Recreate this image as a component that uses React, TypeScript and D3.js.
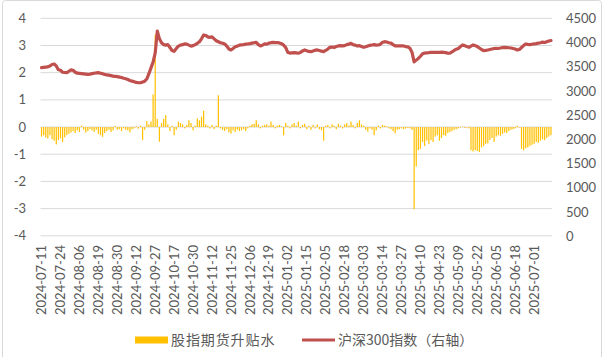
import React from 'react';
import * as d3 from 'd3';

// Trading days (categories), grouped by month
const TRADING_DAYS: [string, number[]][] = [
  ['2024-07', [11, 12, 15, 16, 17, 18, 19, 22, 23, 24, 25, 26, 29, 30, 31]],
  ['2024-08', [1, 2, 5, 6, 7, 8, 9, 12, 13, 14, 15, 16, 19, 20, 21, 22, 23, 26, 27, 28, 29, 30]],
  ['2024-09', [2, 3, 4, 5, 6, 9, 10, 11, 12, 13, 18, 19, 20, 23, 24, 25, 26, 27, 30]],
  ['2024-10', [8, 9, 10, 11, 14, 15, 16, 17, 18, 21, 22, 23, 24, 25, 28, 29, 30, 31]],
  ['2024-11', [1, 4, 5, 6, 7, 8, 11, 12, 13, 14, 15, 18, 19, 20, 21, 22, 25, 26, 27, 28, 29]],
  ['2024-12', [2, 3, 4, 5, 6, 9, 10, 11, 12, 13, 16, 17, 18, 19, 20, 23, 24, 25, 26, 27, 30, 31]],
  ['2025-01', [2, 3, 6, 7, 8, 9, 10, 13, 14, 15, 16, 17, 20, 21, 22, 23, 24, 27]],
  ['2025-02', [5, 6, 7, 10, 11, 12, 13, 14, 17, 18, 19, 20, 21, 24, 25, 26, 27, 28]],
  ['2025-03', [3, 4, 5, 6, 7, 10, 11, 12, 13, 14, 17, 18, 19, 20, 21, 24, 25, 26, 27, 28, 31]],
  ['2025-04', [1, 2, 3, 7, 8, 9, 10, 11, 14, 15, 16, 17, 18, 21, 22, 23, 24, 25, 28, 29, 30]],
  ['2025-05', [6, 7, 8, 9, 12, 13, 14, 15, 16, 19, 20, 21, 22, 23, 26, 27, 28, 29, 30]],
  ['2025-06', [3, 4, 5, 6, 9, 10, 11, 12, 13, 16, 17, 18, 19, 20, 23, 24, 25, 26, 27, 30]],
  ['2025-07', [1, 2, 3, 4, 7, 8, 9, 10, 11]],
];
const DATES: string[] = TRADING_DAYS.flatMap(([m, ds]) =>
  ds.map((d) => `${m}-${String(d).padStart(2, '0')}`)
);

// 股指期货升贴水 (left axis)
const BASIS: number[] = [
  -0.35, -0.30, -0.38, -0.42, -0.30, -0.45, -0.50, -0.64, -0.48, -0.42, -0.55, -0.38, -0.30, -0.25, -0.20,
  -0.15, -0.22, -0.12, -0.18, 0.05, -0.10, -0.20, -0.15, -0.08, -0.12, -0.18, -0.10, -0.25, -0.30, -0.36, -0.22, -0.15, -0.10, -0.18, -0.12, 0.04, -0.10,
  -0.08, -0.15, -0.05, -0.10, -0.12, -0.20, -0.08, -0.05, 0.03, -0.06, 0.05, -0.48, -0.10, 0.22, 0.10, 0.20, 1.20, 3.40, 0.30,
  -0.54, 0.15, 0.30, 0.44, 0.10, -0.15, 0.05, -0.30, -0.10, 0.20, 0.15, 0.10, -0.05, 0.08, 0.25, 0.15, -0.12, 0.05,
  0.32, 0.25, 0.38, 0.60, 0.10, 0.05, -0.05, 0.08, -0.08, 0.05, 1.17, -0.05, -0.10, -0.15, -0.08, -0.20, -0.24, -0.12, -0.18, -0.10, -0.15,
  -0.12, -0.08, -0.15, -0.05, 0.05, 0.10, 0.12, 0.25, 0.10, -0.05, 0.05, 0.08, 0.10, 0.05, 0.20, 0.08, -0.05, 0.05, 0.08, 0.03, -0.30, 0.15,
  0.05, -0.05, 0.10, 0.15, 0.05, 0.20, -0.05, 0.08, 0.12, -0.08, 0.05, -0.10, 0.08, -0.05, 0.10, -0.08, -0.12, -0.50,
  0.05, 0.08, -0.05, 0.10, 0.05, -0.08, 0.12, 0.05, -0.05, 0.10, 0.15, 0.05, 0.20, 0.08, -0.05, 0.15, 0.25, 0.10,
  0.05, -0.10, -0.17, -0.05, -0.10, -0.30, -0.12, 0.05, -0.05, 0.08, 0.05, 0.03, -0.05, -0.08, -0.15, -0.23, -0.10, -0.08, -0.05, -0.08, -0.05,
  -0.03, -0.05, -0.10, -3.02, -1.45, -0.85, -0.80, -0.55, -0.70, -0.50, -0.62, -0.48, -0.55, -0.35, -0.30, -0.50, -0.40, -0.30, -0.32, -0.22, -0.18,
  -0.15, -0.10, -0.08, -0.05, -0.02, 0.02, -0.03, -0.02, -0.05, -0.85, -0.90, -0.85, -0.88, -0.92, -0.75, -0.70, -0.62, -0.60, -0.48,
  -0.40, -0.55, -0.35, -0.30, -0.32, -0.25, -0.20, -0.22, -0.15, -0.10, -0.08, -0.05, 0.05, -0.02, -0.80, -0.85, -0.78, -0.75, -0.70, -0.65,
  -0.62, -0.55, -0.58, -0.50, -0.45, -0.48, -0.40, -0.35, -0.30,
];

// 沪深300指数 (right axis)
const CSI300: number[] = [
  3484, 3490, 3495, 3500, 3520, 3550, 3560, 3520, 3440, 3430, 3390, 3385, 3380, 3410, 3437,
  3430, 3390, 3370, 3365, 3360, 3355, 3350, 3345, 3350, 3360, 3370, 3375, 3381, 3370, 3360, 3345, 3334, 3330, 3320, 3310, 3305, 3299,
  3290, 3280, 3265, 3255, 3240, 3220, 3205, 3195, 3180, 3172, 3175, 3185, 3205, 3250, 3360, 3480, 3600, 3790, 4240,
  4080, 4000, 3960, 3950, 3960, 3900, 3840, 3820, 3880, 3930, 3950, 3960, 3975, 3970, 3950, 3930, 3940, 3960,
  3988, 4020, 4080, 4160, 4150, 4120, 4110, 4120, 4080, 4040, 4020, 4000, 3990, 3974, 3930, 3870, 3850, 3880, 3918, 3930, 3950,
  3955, 3960, 3970, 3974, 3980, 3990, 4000, 4005, 3960, 3933, 3950, 3974, 3970, 3990, 4000, 4005, 4000, 4000, 3995, 3980, 3950, 3900,
  3800, 3785, 3790, 3794, 3790, 3782, 3800, 3830, 3850, 3835, 3820, 3815, 3830, 3845, 3850, 3840, 3825, 3815,
  3840, 3870, 3905, 3910, 3900, 3920, 3933, 3940, 3933, 3940, 3960, 3970, 3988, 3960, 3950, 3933, 3940, 3920,
  3905, 3915, 3930, 3945, 3953, 3960, 3950, 3953, 3970, 4010, 4021, 4015, 4000, 3990, 3960, 3933, 3935, 3935, 3933, 3933, 3920,
  3915, 3885, 3800, 3605, 3640, 3675, 3720, 3770, 3785, 3790, 3795, 3802, 3802, 3800, 3802, 3800, 3805, 3800, 3795, 3782, 3785,
  3810, 3840, 3865, 3880, 3920, 3953, 3940, 3920, 3905, 3930, 3953, 3940, 3920, 3890, 3860, 3836, 3840, 3850, 3860,
  3870, 3880, 3885, 3880, 3890, 3900, 3905, 3900, 3895, 3890, 3880, 3870, 3850, 3860, 3900, 3940, 3974, 3965, 3960, 3968,
  3974, 3980, 3990, 4000, 4012, 4005, 4020, 4035, 4045,
];

const LEFT_TICKS = [4, 3, 2, 1, 0, -1, -2, -3, -4];
const RIGHT_TICKS = [0, 500, 1000, 1500, 2000, 2500, 3000, 3500, 4000, 4500];
const LABEL_EVERY = 9;
const SERIES_NAMES = ['股指期货升贴水', '沪深300指数（右轴）'];

const W = 609;
const H = 357;
const PLOT = { left: 40.5, right: 552, top: 18.3, bottom: 235.8 };
const GRID = '#D9D9D9';
const TEXT = '#595959';
const BAR_COLOR = '#FFC000';
const LINE_COLOR = '#C0504D';
const NUM_FONT = 'Lato, "Open Sans", sans-serif';
const CJK_FONT = '"Noto Sans CJK SC", sans-serif';

export default function App() {
  const x = d3.scaleBand<string>().domain(DATES).range([PLOT.left, PLOT.right]).paddingInner(0.42).paddingOuter(0.2);
  const yL = d3.scaleLinear().domain([-4, 4]).range([PLOT.bottom, PLOT.top]);
  const yR = d3.scaleLinear().domain([0, 4500]).range([PLOT.bottom + 0.5, PLOT.top + 0.2]);
  const cx = (d: string) => (x(d) ?? 0) + x.bandwidth() / 2;

  const line = d3
    .line<number>()
    .x((_, i) => cx(DATES[i]))
    .y((v) => yR(v))
    .curve(d3.curveLinear);

  const tickDates = DATES.filter((_, i) => i % LABEL_EVERY === 0);

  return (
    <svg width={W} height={H} style={{ position: 'absolute', left: 0, top: 0, background: '#fff' }}>
      <rect x={2.5} y={0.5} width={599} height={370} fill="none" stroke={GRID} strokeWidth={1} rx={3} />
      {LEFT_TICKS.map((t) => (
        <line key={`g${t}`} x1={PLOT.left} x2={PLOT.right} y1={yL(t)} y2={yL(t)} stroke={GRID} strokeWidth={1} />
      ))}
      {BASIS.map((v, i) => (
        <rect
          key={`b${i}`}
          x={x(DATES[i])}
          width={x.bandwidth()}
          y={Math.min(yL(v), yL(0))}
          height={Math.abs(yL(v) - yL(0))}
          fill={BAR_COLOR}
        />
      ))}
      <path d={line(CSI300) ?? ''} fill="none" stroke={LINE_COLOR} strokeWidth={3.2} strokeLinejoin="round" strokeLinecap="round" />
      {LEFT_TICKS.map((t) => (
        <text key={`l${t}`} x={26} y={yL(t)} dy="0.35em" textAnchor="end" fontSize={13} fill={TEXT} fontFamily={NUM_FONT}>
          {t}
        </text>
      ))}
      {RIGHT_TICKS.map((t) => (
        <text key={`r${t}`} x={566} y={yR(t)} dy="0.35em" textAnchor="start" fontSize={13} fill={TEXT} fontFamily={NUM_FONT}>
          {t}
        </text>
      ))}
      {tickDates.map((d) => (
        <text
          key={`x${d}`}
          transform={`translate(${cx(d)},${245}) rotate(-90)`}
          dy="0.35em"
          textAnchor="end"
          fontSize={13}
          fill={TEXT}
          fontFamily={NUM_FONT}
        >
          {d}
        </text>
      ))}
      <rect x={135} y={336.5} width={33} height={7} fill={BAR_COLOR} />
      <text x={171} y={340} dy="0.35em" fontSize={14} letterSpacing={0.9} fill={TEXT} fontFamily={CJK_FONT}>
        {SERIES_NAMES[0]}
      </text>
      <line x1={302} x2={335} y1={340} y2={340} stroke={LINE_COLOR} strokeWidth={3} />
      <text x={338} y={340} dy="0.35em" fontSize={14} fill={TEXT} fontFamily={CJK_FONT}>
        {SERIES_NAMES[1]}
      </text>
    </svg>
  );
}
